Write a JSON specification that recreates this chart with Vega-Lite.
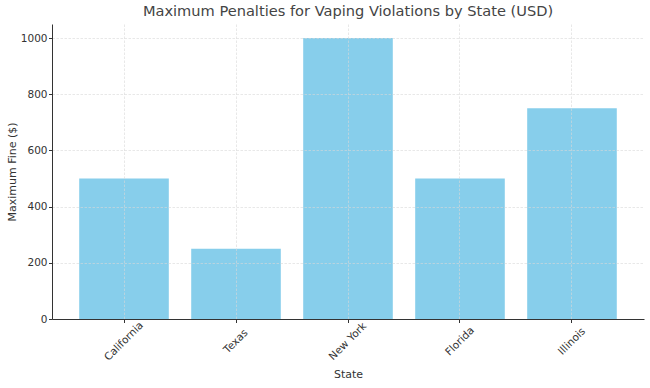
{
  "$schema": "https://vega.github.io/schema/vega-lite/v6.json",
  "width": 592,
  "height": 295,
  "autosize": {"type": "none"},
  "padding": {"left": 52, "top": 24, "right": 6, "bottom": 69},
  "background": "white",
  "config": {
    "font": "DejaVu Sans",
    "view": {"stroke": null},
    "axis": {"labelFont": "DejaVu Sans", "titleFont": "DejaVu Sans", "labelColor": "#333", "titleColor": "#333", "titleFontWeight": "normal", "labelFontSize": 10.5, "titleFontSize": 11, "domainColor": "#333", "tickColor": "#333", "tickSize": 3.5, "gridColor": "#d8d8d8", "gridDash": [2.5, 1.5], "gridWidth": 0.6}
  },
  "title": {"text": "Maximum Penalties for Vaping Violations by State (USD)", "font": "DejaVu Sans", "fontSize": 14.6, "fontWeight": "normal", "color": "#444", "anchor": "middle", "offset": 5},
  "data": {
    "values": [
      {"State": "California", "Fine": 500},
      {"State": "Texas", "Fine": 250},
      {"State": "New York", "Fine": 1000},
      {"State": "Florida", "Fine": 500},
      {"State": "Illinois", "Fine": 750}
    ]
  },
  "mark": {"type": "bar", "color": "#87CEEB"},
  "encoding": {
    "x": {
      "field": "State", "type": "nominal", "sort": null,
      "scale": {"paddingInner": 0.2, "paddingOuter": 0.243},
      "axis": {"title": "State", "labelAngle": -45, "labelAlign": "center", "labelBaseline": "middle", "labelPadding": 18.5, "grid": true, "zindex": 1, "titlePadding": 6}
    },
    "y": {
      "field": "Fine", "type": "quantitative",
      "scale": {"domain": [0, 1050], "nice": false},
      "axis": {"title": "Maximum Fine ($)", "values": [0, 200, 400, 600, 800, 1000], "format": "d", "labelPadding": 1.5, "grid": true, "zindex": 1, "titlePadding": 3}
    }
  }
}
